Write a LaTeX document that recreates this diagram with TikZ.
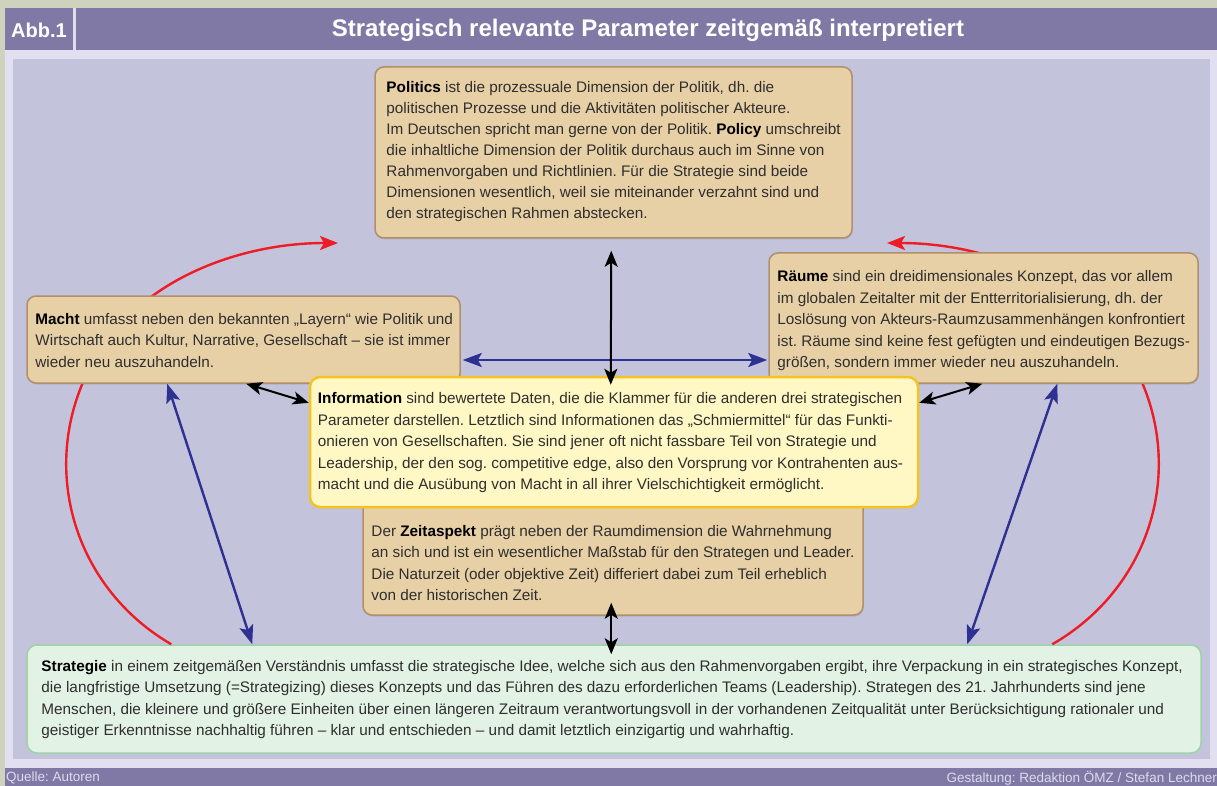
\documentclass[tikz,border=0pt]{standalone}
\usepackage{fontspec}
\setmainfont{Liberation Sans}
\usetikzlibrary{arrows.meta,calc,shadows}
\definecolor{outerbg}{HTML}{CFD3BD}
\definecolor{headpurple}{HTML}{8079A6}
\definecolor{lightband}{HTML}{E2DFF0}
\definecolor{panelbg}{HTML}{C3C3DC}
\definecolor{tanfill}{HTML}{E8D0A6}
\definecolor{tanedge}{HTML}{B0906C}
\definecolor{infofill}{HTML}{FFF8C4}
\definecolor{infoedge}{HTML}{F5C321}
\definecolor{stratfill}{HTML}{E2F2E4}
\definecolor{stratedge}{HTML}{9ED3A6}
\definecolor{arrowblue}{HTML}{2E3192}
\definecolor{arrowred}{HTML}{EE1C25}
\definecolor{bodytext}{HTML}{2E2E2E}
\definecolor{foottext}{HTML}{DCDCEC}
\frenchspacing
\begin{document}
\begin{tikzpicture}[x=1pt,y=-1pt,
  tanbox/.style={draw=tanedge, fill=tanfill, line width=1.5pt, rounded corners=9pt,
    drop shadow={shadow xshift=0.8pt, shadow yshift=-1.5pt, opacity=0.25}},
  infobox/.style={draw=infoedge, fill=infofill, line width=2.5pt, rounded corners=10pt},
  stratbox/.style={draw=stratedge, fill=stratfill, line width=1.5pt, rounded corners=10pt},
  bodytxt/.style={align=left, text=bodytext, inner sep=0pt, anchor=west,
    font=\fontsize{15.3}{21.5}\selectfont},
  blkarrow/.style={draw=black, line width=2pt,
    {Stealth[length=16pt,width=13pt,inset=4pt]}-{Stealth[length=16pt,width=13pt,inset=4pt]}},
  bluarrow/.style={draw=arrowblue, line width=2.4pt,
    {Stealth[length=19pt,width=14pt,inset=4pt]}-{Stealth[length=19pt,width=14pt,inset=4pt]}},
  redarrow/.style={draw=arrowred, line width=2.4pt, -{Stealth[length=18pt,width=14pt,inset=4pt]}}
]
\useasboundingbox (0,0) rectangle (1217,786);
% frame
\fill[outerbg] (0,0) rectangle (1217,786);
\fill[lightband] (5,8) rectangle (1217,786);
\fill[headpurple] (5,8) rectangle (1217,50);
\fill[headpurple] (5,768) rectangle (1217,786);
\fill[panelbg] (13,59) rectangle (1210,759);
\draw[white!75!headpurple, line width=2.5pt] (74.5,8) -- (74.5,50);
\node[font=\bfseries\fontsize{20}{22}\selectfont, text=white, anchor=west, inner sep=0pt] (abb) at (11,30) {Abb.1};
\node[font=\bfseries\fontsize{24}{26}\selectfont, text=white, inner sep=0pt] (title) at (648,30) {Strategisch relevante Parameter zeitgemäß interpretiert};
\node[font=\fontsize{13.5}{14}\selectfont, text=foottext, anchor=west, inner sep=0pt] (quelle) at (6,778) {Quelle: Autoren};
\node[font=\fontsize{13.5}{14}\selectfont, text=foottext, anchor=east, inner sep=0pt] (gestaltung) at (1217,778) {Gestaltung: Redaktion ÖMZ / Stefan Lechner};

% strategie box first (curves start on it)
\node[stratbox, minimum width=1174pt, minimum height=108pt, inner sep=0pt] (strat) at (614,699) {};

% red curves (behind the boxes)
\coordinate (rl1) at ($(strat.north west)+(145,0)$);
\coordinate (rl2) at (338,243);
\coordinate (rr1) at ($(strat.north west)+(1026,0)$);
\coordinate (rr2) at (887,243);
\draw[redarrow] (rl1) .. controls (78,590) and (41,477.5) .. (84,380)
  .. controls (126,282.3) and (237,243) .. (rl2);
\draw[redarrow] (rr1) .. controls (1147,590) and (1184,477.5) .. (1141,380)
  .. controls (1099,282.3) and (988,243) .. (rr2);

% boxes
\node[tanbox, minimum width=477pt, minimum height=171pt, inner sep=0pt] (politics) at (613.5,152.5) {};
\node[tanbox, minimum width=433pt, minimum height=87pt, inner sep=0pt] (macht) at (243.5,339.5) {};
\node[tanbox, minimum width=429pt, minimum height=130pt, inner sep=0pt] (raume) at (983.5,318) {};
\node[tanbox, minimum width=500pt, minimum height=145pt, inner sep=0pt] (zeit) at (613,542.5) {};
\node[infobox, minimum width=608pt, minimum height=130pt, inner sep=0pt] (info) at (614,442) {};

% texts
\node[bodytxt, font=\fontsize{15.3}{21}\selectfont] (politicstext) at ($(politics.west)+(12,-1)$) {\textbf{\color{black}Politics} ist die prozessuale Dimension der Politik, dh. die\\
politischen Prozesse und die Aktivitäten politischer Akteure.\\
Im Deutschen spricht man gerne von der Politik. \textbf{\color{black}Policy} umschreibt\\
die inhaltliche Dimension der Politik durchaus auch im Sinne von\\
Rahmenvorgaben und Richtlinien. Für die Strategie sind beide\\
Dimensionen wesentlich, weil sie miteinander verzahnt sind und\\
den strategischen Rahmen abstecken.};
\node[bodytxt] (machttext) at ($(macht.west)+(9,1)$) {\textbf{\color{black}Macht} umfasst neben den bekannten „Layern“ wie Politik und\\
Wirtschaft auch Kultur, Narrative, Gesellschaft – sie ist immer\\
wieder neu auszuhandeln.};
\node[bodytxt] (raumetext) at ($(raume.west)+(9,3)$) {\textbf{\color{black}Räume} sind ein dreidimensionales Konzept, das vor allem\\
im globalen Zeitalter mit der Entterritorialisierung, dh. der\\
Loslösung von Akteurs-Raumzusammenhängen konfrontiert\\
ist. Räume sind keine fest gefügten und eindeutigen Bezugs-\\
größen, sondern immer wieder neu auszuhandeln.};
\node[bodytxt] (zeittext) at ($(zeit.west)+(9,20.5)$) {Der \textbf{\color{black}Zeitaspekt} prägt neben der Raumdimension die Wahrnehmung\\
an sich und ist ein wesentlicher Maßstab für den Strategen und Leader.\\
Die Naturzeit (oder objektive Zeit) differiert dabei zum Teil erheblich\\
von der historischen Zeit.};
\node[bodytxt] (infotext) at ($(info.west)+(9,1)$) {\textbf{\color{black}Information} sind bewertete Daten, die die Klammer für die anderen drei strategischen\\
Parameter darstellen. Letztlich sind Informationen das „Schmiermittel“ für das Funkti-\\
onieren von Gesellschaften. Sie sind jener oft nicht fassbare Teil von Strategie und\\
Leadership, der den sog. competitive edge, also den Vorsprung vor Kontrahenten aus-\\
macht und die Ausübung von Macht in all ihrer Vielschichtigkeit ermöglicht.};
\node[bodytxt] (strattext) at ($(strat.west)+(15,0.5)$) {\textbf{\color{black}Strategie} in einem zeitgemäßen Verständnis umfasst die strategische Idee, welche sich aus den Rahmenvorgaben ergibt, ihre Verpackung in ein strategisches Konzept,\\
die langfristige Umsetzung (=Strategizing) dieses Konzepts und das Führen des dazu erforderlichen Teams (Leadership). Strategen des 21. Jahrhunderts sind jene\\
Menschen, die kleinere und größere Einheiten über einen längeren Zeitraum verantwortungsvoll in der vorhandenen Zeitqualität unter Berücksichtigung rationaler und\\
geistiger Erkenntnisse nachhaltig führen – klar und entschieden – und damit letztlich einzigartig und wahrhaftig.};

% blue arrows
\draw[bluarrow] ($(macht.east)+(2,20.5)$) -- ($(raume.west)+(-1,42)$);
\draw[bluarrow] ($(macht.south west)+(141,0)$) -- ($(strat.north west)+(226,0)$);
\draw[bluarrow] ($(raume.south west)+(289,0)$) -- ($(strat.north west)+(941,0)$);

% black arrows
\draw[blkarrow] ($(politics.south west)+(237,12)$) -- ($(info.north west)+(302,9)$);
\draw[blkarrow] ($(macht.south west)+(220,0)$) -- ($(info.north west)+(0,27)$);
\draw[blkarrow] ($(raume.south west)+(214,0)$) -- ($(info.north east)+(0,27)$);
\draw[blkarrow] ($(zeit.south west)+(249,-13)$) -- ($(strat.north west)+(585,10)$);
\end{tikzpicture}
\end{document}
